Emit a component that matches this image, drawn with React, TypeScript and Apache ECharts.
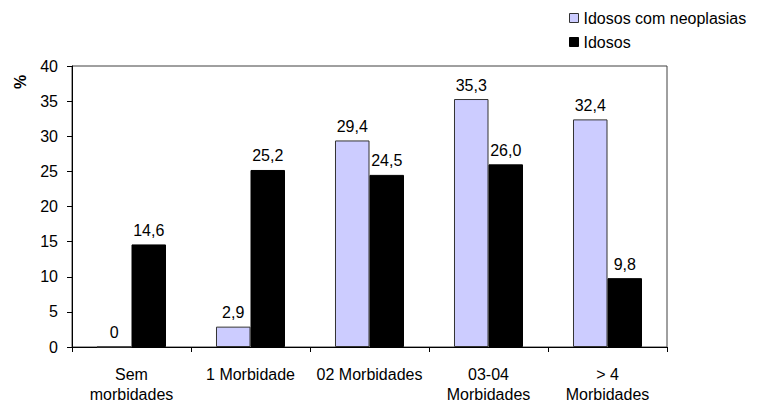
import React, { useEffect, useRef } from "react";
import * as echarts from "echarts";

// Categories of comorbidity count
const categories = [
  "Sem\nmorbidades",
  "1 Morbidade",
  "02 Morbidades",
  "03-04\nMorbidades",
  "> 4\nMorbidades",
];

// Percentages per group
const neoplasiaValues = [0, 2.9, 29.4, 35.3, 32.4];
const idososValues = [14.6, 25.2, 24.5, 26.0, 9.8];

const seriesNames = ["Idosos com neoplasias", "Idosos"];

const FONT = "Liberation Sans, Arial, sans-serif";

const fmt = (v: number) => (v === 0 ? "0" : v.toFixed(1).replace(".", ","));

export default function App() {
  const ref = useRef<HTMLDivElement>(null);

  useEffect(() => {
    document.body.style.margin = "0";
    if (!ref.current) return;
    const chart = echarts.init(ref.current, undefined, { renderer: "svg" });

    const labelStyle = {
      show: true,
      position: "top" as const,
      distance: 6,
      color: "#000",
      fontSize: 16,
      fontFamily: FONT,
      formatter: (p: any) => fmt(p.value as number),
    };

    chart.setOption({
      animation: false,
      backgroundColor: "#fff",
      textStyle: { fontFamily: FONT, color: "#000" },
      grid: {
        left: 72,
        right: 90,
        top: 66,
        bottom: 56,
        show: true,
        borderColor: "#404040",
        borderWidth: 1,
        backgroundColor: "transparent",
      },
      legend: {
        orient: "vertical",
        left: 569,
        top: 10,
        padding: 0,
        itemWidth: 9,
        itemHeight: 9,
        itemGap: 8,
        icon: "rect",
        textStyle: { fontSize: 16, color: "#000", fontFamily: FONT },
        data: [
          { name: seriesNames[0], itemStyle: { color: "#CCCCFF", borderColor: "#333", borderWidth: 1 } },
          { name: seriesNames[1], itemStyle: { color: "#000", borderColor: "#000", borderWidth: 1 } },
        ],
      },
      xAxis: {
        type: "category",
        data: categories,
        axisLine: { lineStyle: { color: "#000", width: 1 } },
        axisTick: { show: true, length: 5, alignWithLabel: false, lineStyle: { color: "#000" } },
        axisLabel: {
          interval: 0,
          margin: 17,
          fontSize: 16,
          lineHeight: 20,
          color: "#000",
          fontFamily: FONT,
        },
        splitLine: { show: false },
      },
      yAxis: {
        type: "value",
        min: 0,
        max: 40,
        interval: 5,
        axisLine: { show: true, lineStyle: { color: "#000", width: 1 } },
        axisTick: { show: true, length: 5, lineStyle: { color: "#000" } },
        axisLabel: { margin: 14, fontSize: 16, color: "#000", fontFamily: FONT },
        splitLine: { show: false },
      },
      graphic: [
        {
          type: "text",
          x: 20,
          y: 82,
          rotation: Math.PI / 2,
          style: {
            text: "%",
            fontSize: 16,
            fontWeight: "bold",
            fontFamily: FONT,
            fill: "#000",
            align: "center",
            verticalAlign: "middle",
          },
        },
      ],
      series: [
        {
          name: seriesNames[0],
          type: "bar",
          data: neoplasiaValues,
          barWidth: "29%",
          barGap: "0%",
          itemStyle: { color: "#CCCCFF", borderColor: "#333", borderWidth: 1 },
          label: labelStyle,
        },
        {
          name: seriesNames[1],
          type: "bar",
          data: idososValues,
          barWidth: "29%",
          barGap: "0%",
          itemStyle: { color: "#000", borderColor: "#000", borderWidth: 1 },
          label: labelStyle,
        },
      ],
    });

    return () => chart.dispose();
  }, []);

  return <div ref={ref} style={{ width: 757, height: 404 }} />;
}
